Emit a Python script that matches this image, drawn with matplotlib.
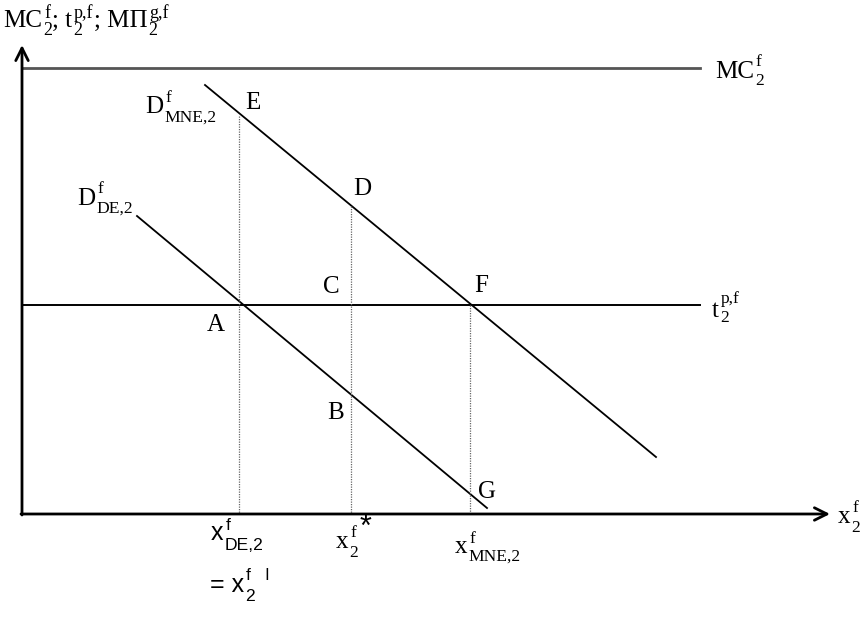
import matplotlib
matplotlib.use('Agg')
import matplotlib.pyplot as plt

SERIF = 'Liberation Serif'
SANS  = 'Liberation Sans'

## Diagram geometry (pixel-like units, y grows downwards)
origin      = (22, 514)
y_tip       = 45
x_tip       = 830
mc_level    = 68
t_level     = 305
line_end    = 700

## Demand curves: (x0, y0, x1, y1)
d_mne = [205, 85, 656, 457]
d_de  = [137, 216, 487, 508]

## Dotted drop lines: (x, y_top)
drops_x   = [239, 351, 470]
drops_top = [116, 206, 305]

## Point labels (left x, baseline y)
pt_names = ['E', 'D', 'C', 'F', 'A', 'B', 'G']
pt_x     = [245, 353, 323, 474, 207, 327, 478]
pt_y     = [109, 195, 293, 292, 331, 419, 498]

fig = plt.figure(figsize=(8.61, 6.19), dpi=100)
ax = fig.add_axes([0, 0, 1, 1])
ax.set_xlim(0, 861)
ax.set_ylim(619, 0)
ax.axis('off')
rend = fig.canvas.get_renderer()

fs = 18


def rich(x, y, groups, family=SERIF, size=fs, rise=11, drop=8, scale=0.7):
    ## base text followed by stacked superscript / subscript
    cur = x
    for base, sup, sub in groups:
        if base:
            t = ax.text(cur, y, base, fontsize=size, family=family, va='baseline', ha='left')
            cur = t.get_window_extent(rend).x1
        ends = [cur]
        if sup:
            t = ax.text(cur + 2, y - rise, sup, fontsize=size * scale, family=family, va='baseline', ha='left')
            ends.append(t.get_window_extent(rend).x1)
        if sub:
            t = ax.text(cur + 1, y + drop, sub, fontsize=size * scale, family=family, va='baseline', ha='left')
            ends.append(t.get_window_extent(rend).x1)
        cur = max(ends)
    return cur


## Axes with open arrow heads
arrow = dict(arrowstyle='->,head_length=0.9,head_width=0.45', lw=2, color='black', shrinkA=0, shrinkB=0)
ax.annotate('', xy=(origin[0], y_tip), xytext=(origin[0], origin[1] + 1), arrowprops=arrow)
ax.annotate('', xy=(x_tip, origin[1]), xytext=(origin[0] - 1, origin[1]), arrowprops=arrow)

## Horizontal lines
ax.plot([origin[0], line_end], [mc_level, mc_level], color='#555555', lw=2.0)
ax.plot([origin[0], line_end], [t_level, t_level], color='black', lw=1.4)

## Demand curves
ax.plot([d_mne[0], d_mne[2]], [d_mne[1], d_mne[3]], color='black', lw=1.3)
ax.plot([d_de[0], d_de[2]], [d_de[1], d_de[3]], color='black', lw=1.3)

## Dotted drops
for xx, yt in zip(drops_x, drops_top):
    ax.plot([xx, xx], [yt, origin[1]], color='#666666', lw=0.9, linestyle=(0, (1, 1)))

## Point labels
for name, px, py in zip(pt_names, pt_x, pt_y):
    ax.text(px, py, name, fontsize=fs, family=SERIF, ha='left', va='baseline')

## Axis and curve labels
rich(3, 27, [('MC', 'f', '2'), ('; t', 'p,f', '2'), ('; M\u03a0', 'g,f', '2')], rise=9, drop=8, scale=0.72)
rich(715, 78, [('MC', 'f', '2')], rise=12, drop=7)
rich(712, 317, [('t', 'p,f', '2')], rise=14, drop=5)
rich(145, 113, [('D', 'f', 'MNE,2')], rise=11, drop=9)
rich(77, 205, [('D', 'f', 'DE,2')], rise=12, drop=8)
rich(838, 523, [('x', 'f', '2')], rise=11, drop=9)

rich(211, 540, [('x', 'f', 'DE,2')], family=SANS, rise=10, drop=10)
rich(210, 592, [('= x', 'f   l', '2')], family=SANS, rise=12, drop=9)
end = rich(336, 548, [('x', 'f', '2')], rise=11, drop=9)
ax.text(end + 1, 536, '*', fontsize=22, family=SANS, ha='left', va='baseline')
rich(455, 553, [('x', 'f', 'MNE,2')], rise=10, drop=8)

fig.savefig('out.png', dpi=100)
